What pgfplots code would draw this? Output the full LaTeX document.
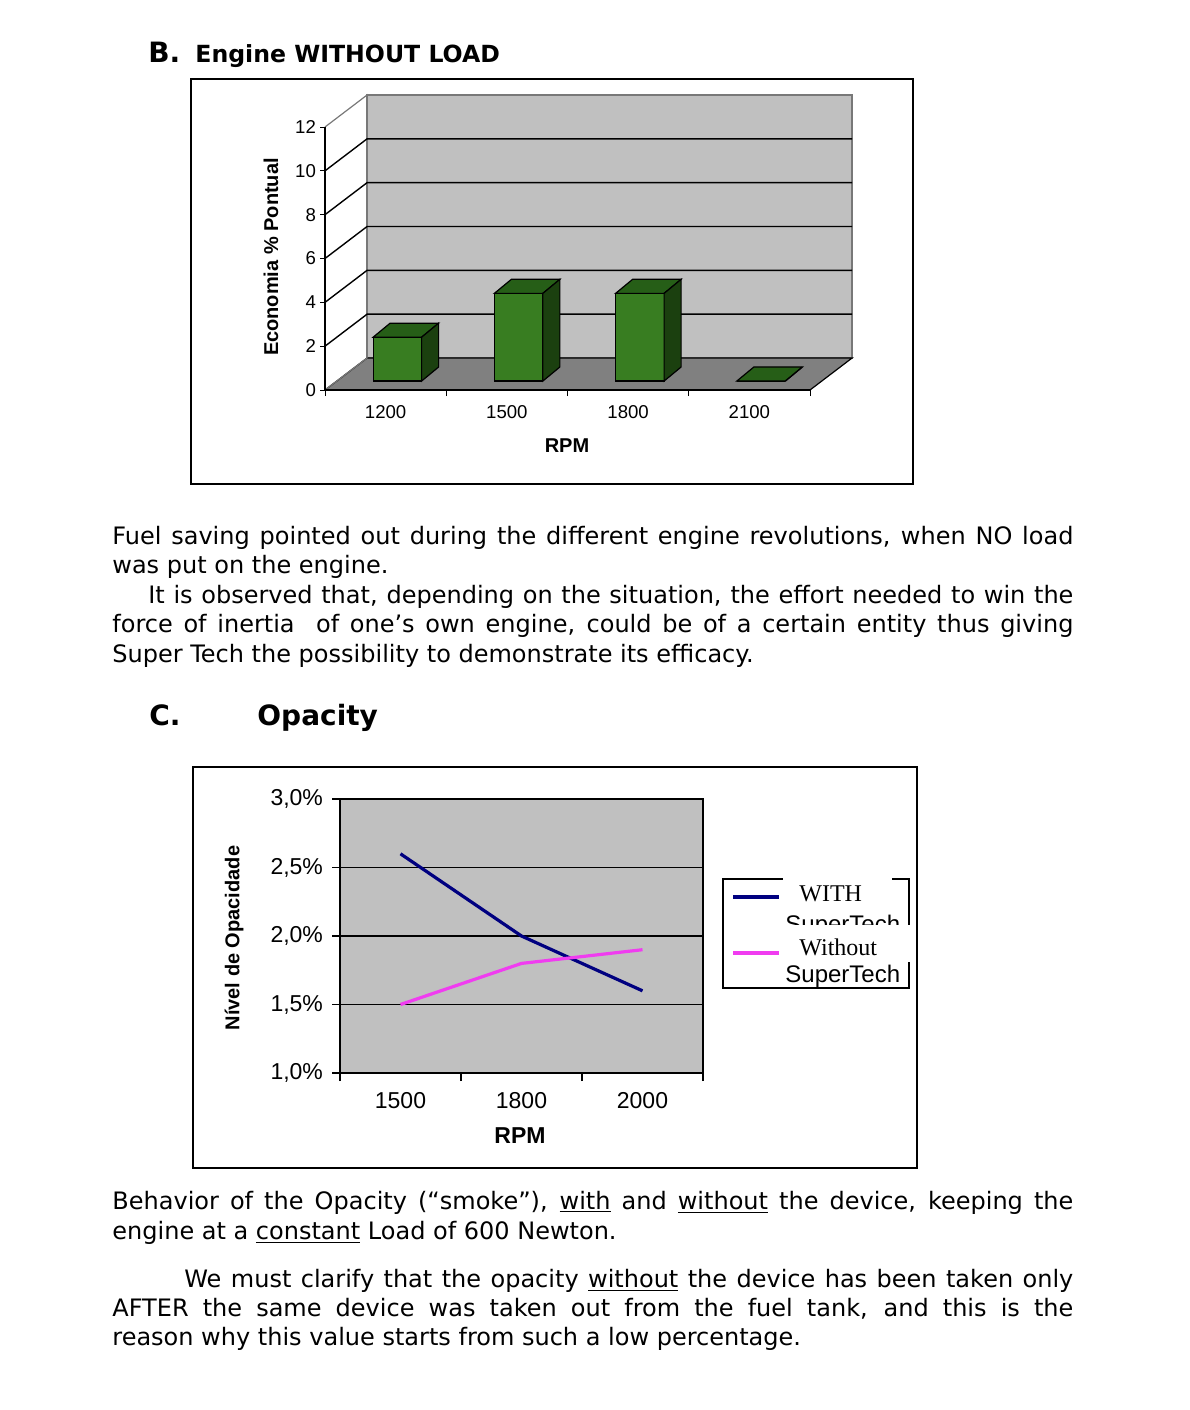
\documentclass[border=0pt]{standalone}
\usepackage{fontspec}
\setmainfont{DejaVu Sans}
\newfontfamily\arialf{Liberation Sans}
\newfontfamily\timesf{Liberation Serif}
\usepackage{pgfplots}
\pgfplotsset{compat=1.18}
\definecolor{wallgray}{RGB}{192,192,192}
\definecolor{floorgray}{RGB}{128,128,128}
\definecolor{edgegray}{RGB}{120,120,120}
\definecolor{barfront}{RGB}{56,125,33}
\definecolor{bartop}{RGB}{38,94,23}
\definecolor{barside}{RGB}{27,64,15}
\definecolor{navyline}{RGB}{0,0,128}
\definecolor{magline}{RGB}{240,60,240}

% 3D bar: #1 = category centre, #2 = value
\newcommand{\barthreed}[2]{%
  \pgfmathsetmacro{\xa}{#1-0.103}%
  \pgfmathsetmacro{\xb}{#1+0.297}%
  \pgfmathsetmacro{\xc}{#1+0.037}%
  \pgfmathsetmacro{\xd}{#1+0.437}%
  \pgfmathsetmacro{\ya}{0.41}%
  \pgfmathsetmacro{\yb}{#2+0.41}%
  \pgfmathsetmacro{\yc}{1.05}%
  \pgfmathsetmacro{\yd}{#2+1.05}%
  \edef\tmp{%
    \noexpand\addplot[draw=black, fill=barfront, line width=0.6pt] coordinates {(\xa,\ya) (\xb,\ya) (\xb,\yb) (\xa,\yb)} -- cycle;
    \noexpand\addplot[draw=black, fill=bartop, line width=0.6pt] coordinates {(\xa,\yb) (\xb,\yb) (\xd,\yd) (\xc,\yd)} -- cycle;
    \noexpand\addplot[draw=black, fill=barside, line width=0.6pt] coordinates {(\xb,\ya) (\xd,\yc) (\xd,\yd) (\xb,\yb)} -- cycle;
  }\tmp
}

\newcommand{\body}{\fontsize{12}{14.6}\selectfont}

\begin{document}
\begin{tikzpicture}
\begin{scope}[x=0.5pt,y=-0.5pt]
\path[use as bounding box] (0,0) rectangle (1190,1410);
% titles
\node[anchor=base west, inner sep=0] at (148,62) {\fontsize{14}{16}\selectfont\bfseries B.};
\node[anchor=base west, inner sep=0] at (195,62) {\fontsize{11.8}{14}\selectfont\bfseries Engine WITHOUT LOAD};
\node[anchor=base west, inner sep=0] at (149,725) {\fontsize{14}{16}\selectfont\bfseries C.};
\node[anchor=base west, inner sep=0] at (257,725) {\fontsize{14}{16}\selectfont\bfseries Opacity};
% frames
\draw[line width=1pt] (191,79) rectangle (913,484);
\draw[line width=1pt] (193,767) rectangle (917,1168);
% paragraph 1
\node[anchor=base west, inner sep=0] at (112,544) {\body\makebox[480.5pt][s]{Fuel saving pointed out during the different engine revolutions, when NO load}};
\node[anchor=base west, inner sep=0] at (112,573) {\body was put on the engine.};
\node[anchor=base west, inner sep=0] at (148,603) {\body\makebox[462.5pt][s]{It is observed that, depending on the situation, the effort needed to win the}};
\node[anchor=base west, inner sep=0] at (112,632) {\body\makebox[480.5pt][s]{force of inertia\ \ of one’s own engine, could be of a certain entity thus giving}};
\node[anchor=base west, inner sep=0] at (112,662) {\body Super Tech the possibility to demonstrate its efficacy.};
% paragraph 2
\node[anchor=base west, inner sep=0] at (112,1209) {\body\makebox[480.5pt][s]{Behavior of the Opacity (“smoke”), \underline{with} and \underline{without} the device, keeping the}};
\node[anchor=base west, inner sep=0] at (112,1239) {\body engine at a \underline{constant} Load of 600 Newton.};
\node[anchor=base west, inner sep=0] at (184,1287) {\body\makebox[444.5pt][s]{We must clarify that the opacity \underline{without} the device has been taken only}};
\node[anchor=base west, inner sep=0] at (112,1316) {\body\makebox[480.5pt][s]{AFTER the same device was taken out from the fuel tank, and this is the}};
\node[anchor=base west, inner sep=0] at (112,1345) {\body reason why this value starts from such a low percentage.};
% axis titles
\node[rotate=90] at (271,257) {\arialf\bfseries\fontsize{10}{12}\selectfont Economia \% Pontual};
\node at (567,446) {\arialf\bfseries\fontsize{10}{12}\selectfont RPM};
\node[rotate=90] at (234,938) {\arialf\bfseries\fontsize{10}{12}\selectfont Nível de Opacidade};
\node at (520,1136) {\arialf\bfseries\fontsize{11.5}{13}\selectfont RPM};
\end{scope}

% ---------- Chart B: 3D bars ----------
\begin{axis}[
  at={(162.5pt,-195pt)}, anchor=south west,
  scale only axis, width=242.5pt, height=131.5pt,
  xmin=0, xmax=4, ymin=0, ymax=12, clip=false,
  axis on top,
  axis x line*=bottom, axis y line*=left,
  every outer x axis line/.append style={-},
  every outer y axis line/.append style={-},
  axis line style={line width=0.7pt},
  xtick={0.5,1.5,2.5,3.5}, xticklabels={1200,1500,1800,2100},
  minor xtick={0,1,2,3,4},
  every major x tick/.append style={draw=none},
  ytick={0,2,4,6,8,10,12},
  tick align=outside, major tick length=2.5pt, minor tick length=3pt,
  tick style={black, line width=0.5pt},
  ticklabel style={font=\arialf\fontsize{9.3}{10}\selectfont},
  /pgf/number format/assume math mode=true,
  xticklabel style={yshift=-1.5pt},
  yticklabel style={xshift=1.5pt},
]
% back wall, floor, side wall
\addplot[fill=wallgray, draw=edgegray, line width=0.6pt] coordinates {(0.347,1.46) (4.347,1.46) (4.347,13.46) (0.347,13.46)} -- cycle;
\addplot[fill=floorgray, draw=black, line width=0.6pt] coordinates {(0,0) (4,0) (4.347,1.46) (0.347,1.46)} -- cycle;
\addplot[draw=edgegray, line width=0.6pt] coordinates {(0,0) (0.347,1.46) (0.347,13.46) (0,12)};
\addplot[draw=edgegray, line width=0.6pt] coordinates {(0.347,13.46) (4.347,13.46)};
% gridlines
\addplot[black, line width=0.7pt] coordinates {(0,2) (0.347,3.46) (4.347,3.46)};
\addplot[black, line width=0.7pt] coordinates {(0,4) (0.347,5.46) (4.347,5.46)};
\addplot[black, line width=0.7pt] coordinates {(0,6) (0.347,7.46) (4.347,7.46)};
\addplot[black, line width=0.7pt] coordinates {(0,8) (0.347,9.46) (4.347,9.46)};
\addplot[black, line width=0.7pt] coordinates {(0,10) (0.347,11.46) (4.347,11.46)};
% bars (RPM 1200, 1500, 1800, 2100)
\barthreed{0.5}{2}
\barthreed{1.5}{4}
\barthreed{2.5}{4}
\barthreed{3.5}{0}
\end{axis}

% ---------- Chart C: opacity lines ----------
\begin{axis}[
  at={(170pt,-536.5pt)}, anchor=south west,
  scale only axis, width=181.5pt, height=137pt,
  xmin=0, xmax=3, ymin=1, ymax=3,
  axis background/.style={fill=wallgray},
  ymajorgrids, grid style={black, line width=0.6pt},
  ytick={1,1.5,2,2.5,3},
  yticklabels={{1,0\%},{1,5\%},{2,0\%},{2,5\%},{3,0\%}},
  xtick={0.5,1.5,2.5}, xticklabels={1500,1800,2000},
  minor xtick={0,1,2,3},
  every major x tick/.append style={draw=none},
  tick align=outside, xtick pos=bottom, ytick pos=left,
  major tick length=4pt, minor tick length=4pt,
  tick style={black, line width=0.6pt},
  axis line style={line width=0.8pt},
  ticklabel style={font=\arialf\fontsize{11.5}{13}\selectfont},
  xticklabel style={yshift=-2pt},
  yticklabel style={xshift=-1pt},
]
\addplot[navyline, line width=1.6pt] coordinates {(0.5,2.6) (1.5,2.0) (2.5,1.6)};
\addplot[magline, line width=1.6pt] coordinates {(0.5,1.5) (1.5,1.8) (2.5,1.9)};
\end{axis}

% legend
\begin{scope}[x=0.5pt,y=-0.5pt]
\draw[line width=0.8pt] (723,879) rectangle (909,988);
\fill[white] (783,875) rectangle (892,884);
\draw[navyline, line width=1.6pt] (733,897) -- (779,897);
\draw[magline, line width=1.6pt] (733,953) -- (779,953);
\node[anchor=base west, inner sep=0] at (799,901) {\timesf\fontsize{12}{14}\selectfont WITH};
\node[anchor=base west, inner sep=0] at (785,932) {\arialf\fontsize{12}{14}\selectfont SuperTech};
\fill[white] (783,925) rectangle (914,937);
\fill[white] (905,925) rectangle (914,962);
\node[anchor=base west, inner sep=0] at (799,955) {\timesf\fontsize{12}{14}\selectfont Without};
\node[anchor=base west, inner sep=0] at (785,982) {\arialf\fontsize{12}{14}\selectfont SuperTech};
\end{scope}
\end{tikzpicture}
\end{document}
